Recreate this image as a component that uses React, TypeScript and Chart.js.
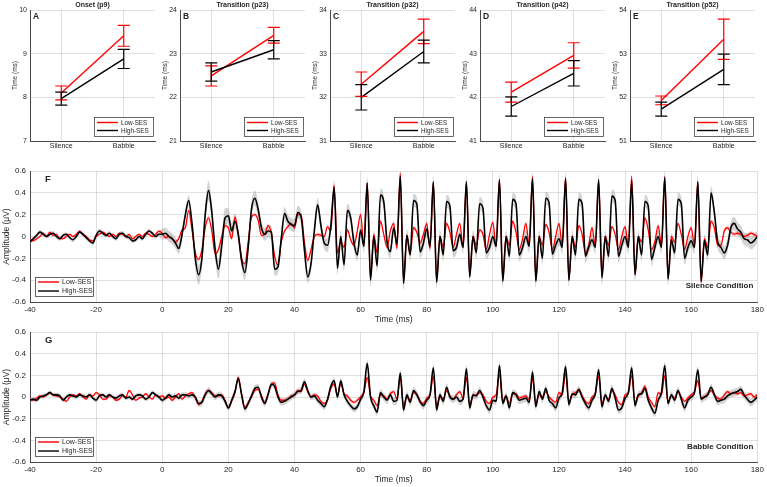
import React, { useEffect, useRef } from 'react';
import { Chart, registerables } from 'chart.js';

Chart.register(...registerables);

const FONT = '"Liberation Sans", Arial, Helvetica, sans-serif';
const TEXT = '#262626';
const GRID = 'rgba(38,38,38,0.14)';
const AXIS = '#4a4a4a';
const RED = '#ff0000';
const BLACK = '#000000';

// ---------- latency panels (mean ± SE, ms) ----------
const conditions = ['Silence', 'Babble'];
const groupNames = ['Low-SES', 'High-SES'];

const onsetLow = [8.10, 9.41];
const onsetLowSE = [0.16, 0.24];
const onsetHigh = [7.97, 8.88];
const onsetHighSE = [0.15, 0.22];

const p23Low = [22.49, 23.42];
const p23LowSE = [0.23, 0.18];
const p23High = [22.58, 23.09];
const p23HighSE = [0.21, 0.21];

const p32Low = [32.30, 33.51];
const p32LowSE = [0.28, 0.28];
const p32High = [32.00, 33.05];
const p32HighSE = [0.29, 0.26];

const p42Low = [42.12, 42.96];
const p42LowSE = [0.23, 0.29];
const p42High = [41.79, 42.55];
const p42HighSE = [0.22, 0.29];

const p52Low = [51.93, 53.33];
const p52LowSE = [0.10, 0.46];
const p52High = [51.73, 52.64];
const p52HighSE = [0.16, 0.35];

// ---------- grand-average waveforms (µV), 1 ms samples from -40 to 180 ms ----------
const sampleStartMs = -40;
const sampleStepMs = 1;
const seBlockMs = 10;

const silenceHigh = [
  -0.05, -0.02, 0.01, 0.04, 0.02, 0.00, 0.02, 0.03, 0.00, -0.02,
  0.01, 0.02, -0.01, -0.03, 0.00, 0.04, 0.02, -0.01, -0.04, -0.06,
  0.01, 0.05, 0.03, 0.01, 0.03, 0.00, -0.02, 0.02, 0.03, 0.00,
  -0.01, -0.04, -0.03, 0.00, -0.02, 0.02, 0.05, 0.03, 0.00, 0.02,
  0.02, 0.03, 0.00, -0.02, -0.06, -0.11, 0.02, 0.20, 0.33, 0.12,
  -0.20, -0.35, -0.20, 0.20, 0.42, 0.22, -0.12, -0.30, -0.08, 0.17,
  0.19, 0.05, 0.14, 0.02, -0.22, -0.33, -0.10, 0.25, 0.35, 0.25,
  0.08, 0.02, 0.05, 0.04, -0.30, -0.28, -0.02, 0.21, 0.14, 0.11,
  0.10, 0.22, 0.18, -0.12, -0.37, -0.25, 0.05, 0.29, 0.10, -0.06,
  -0.08, 0.10, 0.45, -0.29, 0.00, -0.26, 0.24, 0.17, -0.06, -0.17,
  0.06, -0.09, 0.49, -0.40, 0.00, -0.27, 0.38, 0.32, -0.05, -0.14,
  0.08, -0.07, 0.55, -0.43, 0.01, -0.17, 0.33, 0.30, -0.14, -0.06,
  0.07, -0.09, 0.50, -0.42, 0.00, -0.17, 0.32, 0.28, -0.13, -0.10,
  0.02, -0.10, 0.50, -0.37, 0.00, -0.15, 0.30, 0.26, -0.15, -0.10,
  0.00, -0.09, 0.52, -0.41, 0.00, -0.18, 0.34, 0.30, -0.17, -0.10,
  0.00, -0.09, 0.53, -0.41, 0.00, -0.20, 0.35, 0.31, -0.16, -0.08,
  -0.02, -0.10, 0.53, -0.40, 0.00, -0.17, 0.34, 0.30, -0.18, -0.10,
  -0.03, -0.10, 0.52, -0.38, 0.00, -0.18, 0.37, 0.33, -0.18, -0.08,
  0.00, -0.10, 0.51, -0.35, 0.00, -0.17, 0.32, 0.28, -0.21, -0.10,
  0.00, -0.10, 0.54, -0.39, -0.03, -0.15, 0.34, 0.30, -0.20, -0.10,
  -0.04, -0.10, 0.50, -0.41, -0.04, -0.17, 0.40, 0.22, -0.05, -0.10,
  -0.15, -0.08, 0.08, 0.12, 0.07, 0.04, -0.02, -0.03, -0.06, -0.04,
  0.00,
];

const silenceLow = [
  -0.03, -0.04, -0.02, 0.00, 0.03, 0.00, 0.04, 0.01, 0.02, -0.02,
  -0.02, 0.00, 0.02, 0.00, 0.02, 0.05, 0.02, 0.00, -0.03, -0.04,
  0.00, 0.02, 0.04, 0.02, 0.00, 0.02, 0.00, 0.03, 0.02, 0.00,
  0.02, -0.02, 0.00, 0.02, 0.00, 0.03, 0.02, 0.00, 0.02, 0.05,
  0.03, -0.01, 0.00, -0.02, -0.05, -0.02, 0.06, 0.08, 0.24, 0.06,
  -0.15, -0.21, -0.12, 0.08, 0.17, 0.05, -0.16, -0.12, 0.00, 0.10,
  0.08, -0.02, 0.18, 0.02, -0.20, -0.25, -0.05, 0.18, 0.20, 0.15,
  0.01, 0.02, 0.10, 0.03, -0.18, -0.26, -0.05, 0.05, 0.09, 0.12,
  0.08, 0.20, 0.20, -0.05, -0.22, -0.12, 0.00, 0.02, 0.01, 0.00,
  0.09, 0.05, 0.47, -0.15, -0.05, -0.10, 0.06, -0.03, -0.08, 0.05,
  0.20, -0.08, 0.49, -0.38, 0.02, -0.15, 0.14, 0.02, -0.10, 0.05,
  0.12, -0.11, 0.58, -0.40, 0.01, -0.16, 0.08, 0.04, -0.06, 0.02,
  0.12, -0.11, 0.50, -0.40, 0.00, -0.10, 0.12, 0.04, -0.10, 0.02,
  0.12, -0.10, 0.50, -0.36, 0.00, -0.08, 0.06, 0.02, -0.12, 0.02,
  0.13, -0.09, 0.52, -0.40, 0.00, -0.08, 0.14, 0.04, -0.12, -0.02,
  0.12, -0.08, 0.55, -0.40, 0.00, -0.08, 0.11, 0.04, -0.12, 0.00,
  0.12, -0.08, 0.54, -0.40, 0.00, -0.10, 0.10, 0.02, -0.15, -0.08,
  0.08, -0.08, 0.52, -0.36, 0.00, -0.08, 0.09, 0.02, -0.12, 0.00,
  0.09, -0.08, 0.55, -0.35, 0.00, -0.05, 0.17, 0.06, -0.12, -0.05,
  0.10, -0.08, 0.55, -0.38, 0.00, -0.05, 0.12, 0.02, -0.12, 0.00,
  0.08, -0.08, 0.50, -0.42, -0.02, -0.10, 0.14, 0.08, -0.08, -0.08,
  0.05, 0.08, 0.04, 0.02, 0.03, 0.02, 0.00, 0.01, 0.03, 0.02,
  0.00,
];

const babbleHigh = [
  -0.03, -0.02, -0.03, 0.00, 0.01, 0.02, 0.04, 0.02, 0.02, 0.01,
  -0.03, 0.00, 0.02, 0.01, 0.00, 0.02, 0.01, 0.00, 0.02, -0.01,
  -0.03, 0.01, 0.02, 0.00, 0.02, 0.00, -0.01, 0.01, 0.02, -0.01,
  0.00, -0.02, 0.01, 0.02, 0.01, -0.02, 0.00, 0.04, 0.02, 0.00,
  -0.03, -0.01, 0.02, 0.00, 0.01, -0.01, 0.02, 0.02, 0.01, 0.02,
  0.00, -0.06, -0.05, 0.02, 0.06, 0.03, 0.00, 0.02, 0.01, -0.04,
  -0.10, -0.03, 0.05, 0.17, 0.02, -0.11, -0.06, 0.01, 0.08, 0.09,
  0.00, -0.06, 0.02, 0.12, 0.10, 0.00, -0.05, -0.04, -0.02, 0.00,
  0.02, 0.05, 0.06, 0.14, 0.06, 0.00, 0.01, -0.03, -0.06, -0.09,
  -0.02, 0.10, 0.15, 0.00, 0.15, 0.02, -0.04, -0.08, -0.11, -0.09,
  -0.02, 0.05, 0.31, 0.00, -0.08, -0.14, 0.04, 0.00, -0.03, 0.02,
  -0.04, -0.03, 0.22, -0.12, 0.02, -0.05, 0.06, 0.02, -0.04, -0.08,
  -0.03, 0.02, 0.27, -0.12, 0.02, -0.04, 0.09, 0.00, -0.02, 0.00,
  -0.04, -0.02, 0.26, -0.10, 0.02, 0.01, 0.06, 0.00, -0.08, -0.12,
  -0.03, -0.04, 0.29, -0.06, 0.01, -0.10, 0.04, 0.02, -0.03, -0.02,
  -0.01, -0.05, 0.23, -0.09, 0.05, -0.02, 0.08, -0.03, -0.06, -0.10,
  -0.01, 0.04, 0.28, -0.07, 0.03, 0.02, 0.07, 0.00, -0.06, -0.10,
  -0.03, 0.03, 0.25, -0.09, 0.02, -0.04, 0.08, -0.01, -0.12, -0.10,
  -0.01, 0.04, 0.27, -0.08, 0.02, 0.03, 0.08, -0.03, -0.10, -0.15,
  -0.03, 0.04, 0.29, -0.06, 0.02, -0.03, 0.06, -0.02, -0.10, -0.03,
  0.00, 0.04, 0.25, -0.02, 0.00, 0.02, 0.09, 0.02, -0.04, -0.03,
  -0.02, 0.01, 0.03, 0.04, 0.05, 0.07, 0.02, -0.02, -0.05, -0.03,
  0.00,
];

const babbleLow = [
  -0.02, -0.03, -0.01, 0.01, 0.00, 0.02, 0.04, 0.02, 0.01, 0.00,
  -0.02, -0.04, 0.00, 0.02, 0.01, 0.03, 0.00, -0.02, 0.02, 0.01,
  0.04, 0.02, -0.02, -0.02, 0.01, 0.00, -0.03, -0.02, 0.01, 0.00,
  0.06, 0.02, -0.03, -0.01, 0.00, 0.03, 0.00, -0.02, 0.02, 0.00,
  0.01, -0.01, 0.00, -0.03, 0.00, 0.03, -0.02, 0.01, 0.03, 0.04,
  -0.01, -0.07, -0.04, 0.03, 0.06, 0.04, 0.01, 0.01, 0.02, -0.03,
  -0.10, -0.04, 0.04, 0.18, 0.03, -0.10, -0.05, 0.00, 0.06, 0.07,
  0.01, -0.05, 0.03, 0.11, 0.13, 0.02, -0.03, -0.03, -0.02, 0.01,
  0.02, 0.06, 0.05, 0.12, 0.05, 0.00, 0.02, 0.01, -0.04, -0.06,
  -0.03, 0.08, 0.12, 0.02, 0.12, 0.03, 0.01, -0.03, -0.05, -0.03,
  0.00, 0.04, 0.18, 0.01, -0.03, -0.08, 0.02, 0.01, -0.02, 0.03,
  0.05, -0.02, 0.18, -0.08, 0.00, -0.03, 0.04, 0.03, -0.05, -0.06,
  -0.01, 0.02, 0.19, -0.08, 0.00, -0.02, 0.06, 0.01, -0.02, 0.02,
  0.05, -0.01, 0.18, -0.07, 0.01, 0.02, 0.04, 0.02, -0.04, -0.06,
  0.00, 0.02, 0.21, -0.04, 0.01, -0.06, 0.03, 0.03, -0.01, 0.00,
  0.01, -0.02, 0.17, -0.06, 0.02, 0.00, 0.05, 0.00, -0.03, -0.05,
  0.04, 0.02, 0.22, -0.05, 0.02, 0.04, 0.06, 0.01, -0.04, -0.06,
  0.00, 0.03, 0.19, -0.06, 0.01, -0.02, 0.06, 0.02, -0.05, -0.07,
  0.02, 0.04, 0.20, -0.05, 0.01, 0.04, 0.10, 0.00, -0.05, -0.09,
  0.04, 0.02, 0.20, -0.05, 0.01, -0.01, 0.05, 0.00, -0.04, -0.01,
  0.02, 0.05, 0.15, -0.01, 0.00, 0.03, 0.06, 0.02, -0.01, -0.02,
  0.02, 0.05, 0.03, 0.04, 0.03, 0.04, 0.01, 0.02, 0.03, 0.00,
  0.02,
];

// standard error of each waveform, one value per 10 ms block (-40 ... 170)
const silenceHighSE = [0.02, 0.02, 0.02, 0.02, 0.05, 0.09, 0.07, 0.06, 0.06, 0.06, 0.06, 0.06, 0.06, 0.06, 0.06, 0.06, 0.06, 0.06, 0.06, 0.06, 0.06, 0.06];
const silenceLowSE = [0.012, 0.012, 0.012, 0.012, 0.02, 0.025, 0.02, 0.02, 0.02, 0.02, 0.02, 0.02, 0.02, 0.02, 0.02, 0.02, 0.02, 0.02, 0.02, 0.02, 0.02, 0.02];
const babbleHighSE = [0.02, 0.02, 0.02, 0.02, 0.025, 0.03, 0.03, 0.03, 0.03, 0.03, 0.035, 0.035, 0.035, 0.035, 0.035, 0.035, 0.035, 0.035, 0.035, 0.035, 0.035, 0.035];
const babbleLowSE = [0.012, 0.012, 0.012, 0.012, 0.015, 0.018, 0.018, 0.018, 0.018, 0.018, 0.02, 0.02, 0.02, 0.02, 0.02, 0.02, 0.02, 0.02, 0.02, 0.02, 0.02, 0.02];

// ---------- plugins ----------
const errorBarPlugin = {
  id: 'errorBars',
  afterDatasetsDraw(chart: any) {
    const { ctx } = chart;
    const y = chart.scales.y;
    chart.data.datasets.forEach((ds: any, di: number) => {
      if (!ds.errors) return;
      const meta = chart.getDatasetMeta(di);
      ctx.save();
      ctx.strokeStyle = ds.borderColor;
      ctx.lineWidth = 1.2;
      meta.data.forEach((pt: any, i: number) => {
        const v = ds.data[i];
        const top = y.getPixelForValue(v + ds.errors[i]);
        const bot = y.getPixelForValue(v - ds.errors[i]);
        const x = pt.x;
        const half = 6;
        ctx.beginPath();
        ctx.moveTo(x, top);
        ctx.lineTo(x, bot);
        ctx.moveTo(x - half, top);
        ctx.lineTo(x + half, top);
        ctx.moveTo(x - half, bot);
        ctx.lineTo(x + half, bot);
        ctx.stroke();
      });
      ctx.restore();
    });
  },
};

const annotatePlugin = {
  id: 'annotate',
  afterDraw(chart: any, _args: any, o: any) {
    const { ctx, chartArea: a } = chart;
    ctx.save();
    ctx.fillStyle = TEXT;
    ctx.textBaseline = 'middle';
    if (o.title) {
      ctx.font = `bold ${o.titleSize}px ${FONT}`;
      ctx.textAlign = 'center';
      ctx.fillText(o.title, (a.left + a.right) / 2, a.top - o.titleGap);
    }
    if (o.letter) {
      ctx.font = `bold ${o.letterSize}px ${FONT}`;
      ctx.textAlign = 'left';
      ctx.fillText(o.letter, a.left + o.letterDx, a.top + o.letterDy);
    }
    if (o.condition) {
      ctx.font = `bold ${o.condSize}px ${FONT}`;
      ctx.textAlign = 'right';
      ctx.fillText(o.condition, a.right - o.condDx, a.bottom - o.condDy);
    }
    const L = o.legend;
    if (L) {
      const x0 = L.side === 'left' ? a.left + L.dx : a.right - L.dx - L.w;
      const y0 = a.bottom - L.dy - L.h;
      ctx.fillStyle = '#ffffff';
      ctx.fillRect(x0, y0, L.w, L.h);
      ctx.strokeStyle = '#262626';
      ctx.lineWidth = 0.7;
      ctx.strokeRect(Math.round(x0) + 0.5, Math.round(y0) + 0.5, L.w, L.h);
      ctx.font = `${L.fontSize}px ${FONT}`;
      ctx.textAlign = 'left';
      const entries = [
        { label: groupNames[0], color: RED },
        { label: groupNames[1], color: BLACK },
      ];
      entries.forEach((e, i) => {
        const yy = y0 + L.rowTop + i * L.rowGap;
        ctx.strokeStyle = e.color;
        ctx.lineWidth = 1.4;
        ctx.beginPath();
        ctx.moveTo(x0 + 3, yy);
        ctx.lineTo(x0 + 3 + L.lineLen, yy);
        ctx.stroke();
        ctx.fillStyle = TEXT;
        ctx.fillText(e.label, x0 + 6 + L.lineLen, yy + 0.5);
      });
    }
    ctx.restore();
  },
};

// ---------- chart configs ----------
const latencyPanels = [
  { letter: 'A', title: 'Onset (p9)', min: 7, max: 10, low: onsetLow, lowSE: onsetLowSE, high: onsetHigh, highSE: onsetHighSE },
  { letter: 'B', title: 'Transition (p23)', min: 21, max: 24, low: p23Low, lowSE: p23LowSE, high: p23High, highSE: p23HighSE },
  { letter: 'C', title: 'Transition (p32)', min: 31, max: 34, low: p32Low, lowSE: p32LowSE, high: p32High, highSE: p32HighSE },
  { letter: 'D', title: 'Transition (p42)', min: 41, max: 44, low: p42Low, lowSE: p42LowSE, high: p42High, highSE: p42HighSE },
  { letter: 'E', title: 'Transition (p52)', min: 51, max: 54, low: p52Low, lowSE: p52LowSE, high: p52High, highSE: p52HighSE },
];

function latencyConfig(p: any): any {
  const tickFont = { family: FONT, size: 7 };
  return {
    type: 'line',
    data: {
      labels: conditions,
      datasets: [
        { label: groupNames[0], data: p.low, errors: p.lowSE, borderColor: RED, backgroundColor: RED, borderWidth: 1.4, pointRadius: 0, order: 1 },
        { label: groupNames[1], data: p.high, errors: p.highSE, borderColor: BLACK, backgroundColor: BLACK, borderWidth: 1.4, pointRadius: 0, order: 0 },
      ],
    },
    options: {
      animation: false,
      responsive: false,
      events: [],
      layout: { padding: { left: 11, right: 3, top: 10, bottom: 0 } },
      plugins: {
        legend: { display: false },
        tooltip: { enabled: false },
        annotate: {
          title: p.title, titleSize: 7, titleGap: 4.5,
          letter: p.letter, letterSize: 8.5, letterDx: 3, letterDy: 7,
          legend: { side: 'right', dx: 2, dy: 5, w: 59, h: 19, rowTop: 5.5, rowGap: 8, lineLen: 21, fontSize: 6.3 },
        },
      },
      scales: {
        x: {
          type: 'category',
          offset: true,
          grid: { offset: false, color: GRID, drawTicks: false },
          border: { color: AXIS, width: 1 },
          ticks: { color: TEXT, font: tickFont, padding: 1, maxRotation: 0 },
          afterFit: (s: any) => { s.height = 11; },
        },
        y: {
          min: p.min,
          max: p.max,
          grid: { color: GRID, drawTicks: false },
          border: { color: AXIS, width: 1 },
          ticks: { stepSize: 1, color: TEXT, font: tickFont, padding: 3 },
          title: { display: true, text: 'Time (ms)', color: TEXT, font: { family: FONT, size: 6.5 }, padding: { top: 0, bottom: 0 } },
          afterFit: (s: any) => { s.width = 19; },
        },
      },
    },
    plugins: [errorBarPlugin, annotatePlugin],
  };
}

function toPoints(values: number[], se: number[] | null, sign: number) {
  return values.map((v, i) => {
    const t = sampleStartMs + i * sampleStepMs;
    const b = se ? Math.min(se.length - 1, Math.floor((t - sampleStartMs) / seBlockMs)) : 0;
    return { x: t, y: se ? v + sign * se[b] : v };
  });
}

function waveConfig(w: any): any {
  const tickFont = { family: FONT, size: 8 };
  const line = { pointRadius: 0, cubicInterpolationMode: 'monotone', fill: false };
  const band = { pointRadius: 0, borderWidth: 0, cubicInterpolationMode: 'monotone' };
  return {
    type: 'line',
    data: {
      datasets: [
        { ...line, label: groupNames[1], data: toPoints(w.high, null, 0), borderColor: BLACK, borderWidth: 1.6 },
        { ...line, label: groupNames[0], data: toPoints(w.low, null, 0), borderColor: RED, borderWidth: 1.3 },
        { ...band, data: toPoints(w.high, w.highSE, 1), fill: '+1', backgroundColor: 'rgba(150,150,150,0.42)' },
        { ...band, data: toPoints(w.high, w.highSE, -1), fill: false },
        { ...band, data: toPoints(w.low, w.lowSE, 1), fill: '+1', backgroundColor: 'rgba(255,120,120,0.30)' },
        { ...band, data: toPoints(w.low, w.lowSE, -1), fill: false },
      ],
    },
    options: {
      animation: false,
      responsive: false,
      events: [],
      layout: { padding: { left: 0, right: 9, top: w.padTop, bottom: 0 } },
      plugins: {
        legend: { display: false },
        tooltip: { enabled: false },
        annotate: {
          letter: w.letter, letterSize: 9.5, letterDx: 15, letterDy: 8,
          condition: w.condition, condSize: 8, condDx: 4, condDy: w.condDy,
          legend: { side: 'left', dx: 5, dy: 6, w: 58, h: 19, rowTop: 5, rowGap: 9, lineLen: 21, fontSize: 7 },
        },
      },
      scales: {
        x: {
          type: 'linear',
          min: -40,
          max: 180,
          grid: { color: GRID, drawTicks: false },
          border: { color: AXIS, width: 1 },
          ticks: { stepSize: 20, color: TEXT, font: tickFont, padding: 3, maxRotation: 0 },
          title: { display: true, text: 'Time (ms)', color: TEXT, font: { family: FONT, size: 8.5 }, padding: { top: 0, bottom: w.titlePad } },
          afterFit: (s: any) => { s.height = w.xHeight; },
        },
        y: {
          min: -0.6,
          max: 0.6,
          grid: { color: GRID, drawTicks: false },
          border: { color: AXIS, width: 1 },
          ticks: {
            stepSize: 0.2,
            color: TEXT,
            font: tickFont,
            padding: 4,
            callback: (v: any) => (Math.abs(v) < 1e-9 ? '0' : Number(v).toFixed(1)),
          },
          title: { display: true, text: 'Amplitude (μV)', color: TEXT, font: { family: FONT, size: 8.5 }, padding: { top: 2, bottom: 0 } },
          afterFit: (s: any) => { s.width = 30; },
        },
      },
    },
    plugins: [annotatePlugin],
  };
}

const silencePanel = { letter: 'F', condition: 'Silence Condition', low: silenceLow, lowSE: silenceLowSE, high: silenceHigh, highSE: silenceHighSE, padTop: 11, xHeight: 28, titlePad: 5, condDy: 16 };
const babblePanel = { letter: 'G', condition: 'Babble Condition', low: babbleLow, lowSE: babbleLowSE, high: babbleHigh, highSE: babbleHighSE, padTop: 12, xHeight: 25, titlePad: 2, condDy: 15 };

function ChartCanvas({ make, left, top, width, height }: any) {
  const ref = useRef<HTMLCanvasElement>(null);
  useEffect(() => {
    const chart = new Chart(ref.current as HTMLCanvasElement, make());
    return () => chart.destroy();
  }, []);
  return (
    <canvas
      ref={ref}
      width={width}
      height={height}
      style={{ position: 'absolute', left, top, width, height }}
    />
  );
}

export default function App() {
  return (
    <div style={{ position: 'fixed', left: 0, top: 0, width: 767, height: 487, background: '#ffffff', overflow: 'hidden' }}>
      {latencyPanels.map((p, k) => (
        <ChartCanvas key={p.letter} make={() => latencyConfig(p)} left={150 * k} top={0} width={158} height={152} />
      ))}
      <ChartCanvas make={() => waveConfig(silencePanel)} left={0} top={160} width={767} height={170} />
      <ChartCanvas make={() => waveConfig(babblePanel)} left={0} top={320} width={767} height={167} />
    </div>
  );
}
